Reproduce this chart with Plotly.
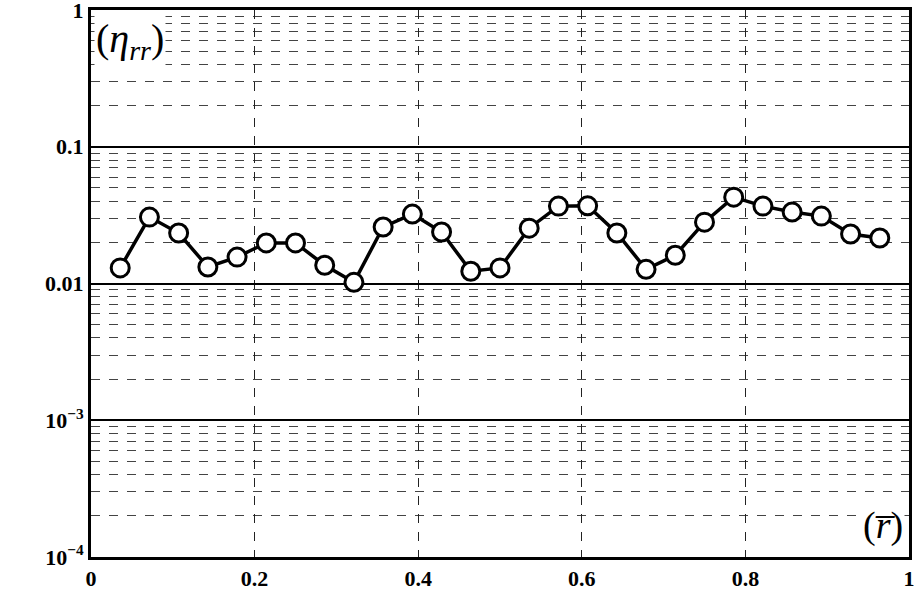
import plotly.graph_objects as go

# Radial position (normalised) and stress ratio values
r_bar = [i / 28 for i in range(1, 28)]
eta_rr = [0.0130, 0.0306, 0.0234, 0.0132, 0.0156, 0.0198, 0.0198, 0.0136, 0.0102,
          0.0259, 0.0322, 0.0238, 0.0123, 0.0130, 0.0254, 0.0368, 0.0370, 0.0234,
          0.0127, 0.0161, 0.0281, 0.0428, 0.0368, 0.0333, 0.0311, 0.0230, 0.0215]

x_ticks = [0, 0.2, 0.4, 0.6, 0.8, 1]
x_labels = ["<b>0</b>", "<b>0.2</b>", "<b>0.4</b>", "<b>0.6</b>", "<b>0.8</b>", "<b>1</b>"]
y_ticks = [1e-4, 1e-3, 1e-2, 1e-1, 1]
y_labels = ["<b>10<sup>−4</sup></b>", "<b>10<sup>−3</sup></b>", "<b>0.01</b>",
            "<b>0.1</b>", "<b>1</b>"]

serif = "Liberation Serif"

fig = go.Figure()
fig.add_trace(go.Scatter(
    x=r_bar, y=eta_rr, mode="lines+markers",
    line=dict(color="black", width=3.5),
    marker=dict(symbol="circle", size=18, color="white",
                line=dict(color="black", width=3)),
    showlegend=False,
))

fig.update_xaxes(
    range=[0, 1], tickvals=x_ticks, ticktext=x_labels,
    showline=True, linecolor="black", linewidth=3, mirror=True,
    showgrid=True, gridcolor="#222", griddash="dash", gridwidth=1,
    zeroline=False, ticks="", automargin=False, ticklabeloverflow="allow",
    tickfont=dict(family=serif, size=22, color="black"),
)
fig.update_yaxes(
    type="log", range=[-4, 0], tickvals=y_ticks, ticktext=y_labels,
    showline=True, linecolor="black", linewidth=3, mirror=True,
    showgrid=True, gridcolor="black", gridwidth=2,
    zeroline=False, ticks="", automargin=False, ticklabeloverflow="allow",
    tickfont=dict(family=serif, size=22, color="black"),
    minor=dict(dtick="D1", showgrid=True, gridcolor="#444",
               griddash="dash", gridwidth=1),
)

fig.add_annotation(
    text="(<i>η<sub>rr</sub></i>)", xref="paper", yref="paper",
    x=0.004, y=0.993, xanchor="left", yanchor="top", showarrow=False,
    font=dict(family=serif, size=40, color="black"),
    bgcolor="white",
)
fig.add_annotation(
    text="(<i>r̅</i>)", xref="paper", yref="paper",
    x=0.995, y=0.015, xanchor="right", yanchor="bottom", showarrow=False,
    font=dict(family=serif, size=38, color="black"),
    bgcolor="white",
)

fig.update_layout(
    width=923, height=592,
    font=dict(family=serif, color="black"),
    margin=dict(l=91, r=14, t=10, b=35),
    paper_bgcolor="white", plot_bgcolor="white",
)

fig.write_html("out.html")
